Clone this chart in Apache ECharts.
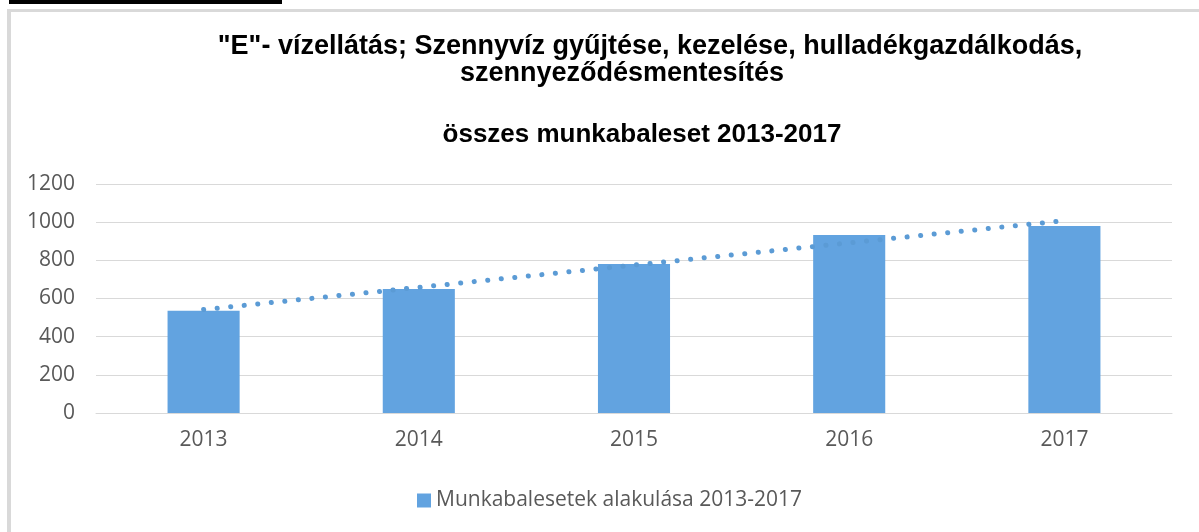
<!DOCTYPE html>
<html>
<head>
<meta charset="utf-8">
<script src="https://cdn.jsdelivr.net/npm/echarts@6/dist/echarts.min.js"></script>
<style>html,body{margin:0;padding:0;background:#fff;}#c{width:1199px;height:532px;}</style>
</head>
<body>
<div id="c"></div>
<script>
const categories = ['2013', '2014', '2015', '2016', '2017'];
const values = [536, 650, 781, 933, 980];
const trendEnds = [[0, 542], [4, 1008]];
const yTicks = [0, 200, 400, 600, 800, 1000, 1200];
const titleLine1 = '"E"- vízellátás; Szennyvíz gyűjtése, kezelése, hulladékgazdálkodás,';
const titleLine2 = 'szennyeződésmentesítés';
const titleLine3 = 'összes munkabaleset 2013-2017';
const seriesName = 'Munkabalesetek alakulása 2013-2017';

const chart = echarts.init(document.getElementById('c'), null, {renderer: 'canvas'});
const titleFont = '"Liberation Sans", Arial, sans-serif';
const t1 = {fontFamily: titleFont, fontWeight: 'bold', fontSize: 27, color: '#000'};
const t2 = {fontFamily: titleFont, fontWeight: 'bold', fontSize: 27, color: '#000'};
const t3 = {fontFamily: titleFont, fontWeight: 'bold', fontSize: 26, color: '#000'};
const labelFont = '"Open Sans", "Liberation Sans", sans-serif';
chart.setOption({
  animation: false,
  backgroundColor: '#fff',
  title: [
    {text: titleLine1, left: 650, top: 33, textAlign: 'center', textStyle: t1, padding: 0},
    {text: titleLine2, left: 622, top: 60, textAlign: 'center', textStyle: t2, padding: 0},
    {text: titleLine3, left: 642, top: 122, textAlign: 'center', textStyle: t3, padding: 0}
  ],
  graphic: [
    {type: 'rect', shape: {x: 9, y: 0, width: 273, height: 4}, style: {fill: '#000'}},
    {type: 'rect', shape: {x: 7, y: 9, width: 1192, height: 3}, style: {fill: '#d9d9d9'}},
    {type: 'rect', shape: {x: 7, y: 9, width: 4, height: 523}, style: {fill: '#d9d9d9'}}
  ],
  legend: {
    data: [seriesName],
    left: 412, top: 485,
    icon: 'rect', itemWidth: 14, itemHeight: 14, itemGap: 4,
    textStyle: {fontFamily: labelFont, fontSize: 21, color: '#595959', padding: [0, 0, 0, 0]}
  },
  grid: {left: 96, right: 27, top: 184, bottom: 119, containLabel: false},
  xAxis: {
    type: 'category', data: categories,
    axisLine: {lineStyle: {color: '#d9d9d9', width: 1}},
    axisTick: {show: false},
    axisLabel: {fontFamily: labelFont, fontSize: 21, color: '#595959', margin: 17}
  },
  yAxis: {
    type: 'value', min: yTicks[0], max: yTicks[yTicks.length - 1], interval: 200,
    axisLine: {show: false}, axisTick: {show: false},
    splitLine: {lineStyle: {color: '#d9d9d9', width: 1}},
    axisLabel: {fontFamily: labelFont, fontSize: 21, color: '#595959', margin: 21,
      formatter: function (v) { return String(v); }}
  },
  series: [
    {
      name: seriesName, type: 'bar', data: values, barWidth: '33.5%',
      itemStyle: {color: '#62a3e0'}
    },
    {
      name: 'trend', type: 'line', data: trendEnds, symbol: 'none',
      lineStyle: {color: '#5b9bd5', width: 5, type: [0.1, 13.5], cap: 'round'},
      xAxisIndex: 0, z: 3
    }
  ]
});
</script>
</body>
</html>
